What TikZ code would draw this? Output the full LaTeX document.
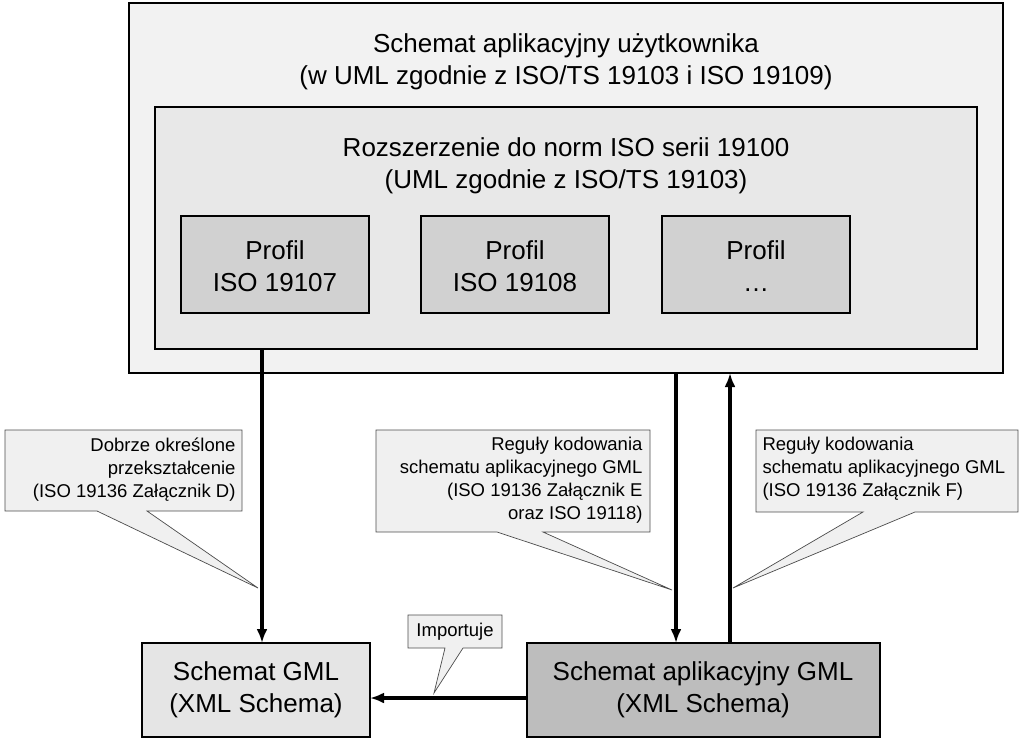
\documentclass[tikz,border=0pt]{standalone}
\usepackage{fontspec}
\setmainfont{Liberation Sans}
\usetikzlibrary{arrows.meta}
\begin{document}
\begin{tikzpicture}[x=1pt,y=-1pt,
  box/.style={draw=black,line width=1.6pt},
  big/.style={font=\fontsize{26}{32}\selectfont,align=center},
  small/.style={font=\fontsize{18.5}{23}\selectfont},
  arr/.style={line width=3.5pt,-{Latex[length=14pt,width=11pt]}},
  call/.style={draw=black!70,fill=black!6,line width=0.7pt}]
\useasboundingbox (0,0) rectangle (1024,752);
\draw[box,fill=black!5] (129,3) rectangle (1003,373);
\node[big] (t1) at (566,62) {Schemat aplikacyjny użytkownika\\(w UML zgodnie z ISO/TS 19103 i ISO 19109)};
\draw[box,fill=black!9] (155,107) rectangle (977,349);
\node[big] (t2) at (566,166) {Rozszerzenie do norm ISO serii 19100\\(UML zgodnie z ISO/TS 19103)};
\foreach \x/\t [count=\i] in {181/ISO 19107,421/ISO 19108,662/\ldots}{
  \draw[box,fill=black!18] (\x,216) rectangle ++(188,97);
  \node[big] (p\i) at (\x+94,266) {Profil\\\t};
}
\draw[box,fill=black!10] (142,643) rectangle (370,737);
\node[big] (g1) at (256,690) {Schemat GML\\(XML Schema)};
\draw[box,fill=black!26] (527,643) rectangle (880,737);
\node[big] (g2) at (703,690) {Schemat aplikacyjny GML\\(XML Schema)};
\coordinate (a1) at (262,349); \coordinate (b1) at (262,643);
\coordinate (a2) at (676,373); \coordinate (b2) at (676,643);
\coordinate (a3) at (730,643); \coordinate (b3) at (730,373);
\coordinate (a4) at (527,698); \coordinate (b4) at (370,698);
% callouts
\draw[call] (5,430) -- (242,430) -- (242,511) -- (147,511) -- (258,588) -- (97,511) -- (5,511) -- cycle;
\node[small,align=right,anchor=north east] (c1) at (239,434) {Dobrze określone\\przekształcenie\\(ISO 19136 Załącznik D)};
\draw[call] (376,430) -- (650,430) -- (650,532) -- (543,532) -- (672,590) -- (497,532) -- (376,532) -- cycle;
\node[small,align=right,anchor=north east] (c2) at (646,434) {Reguły kodowania\\schematu aplikacyjnego GML\\(ISO 19136 Załącznik E\\oraz ISO 19118)};
\draw[call] (756,430) -- (1018,430) -- (1018,512) -- (915,512) -- (733,588) -- (863,512) -- (756,512) -- cycle;
\node[small,align=left,anchor=north west] (c3) at (759,434) {Reguły kodowania\\schematu aplikacyjnego GML\\(ISO 19136 Załącznik F)};
\draw[call] (408,615) -- (502,615) -- (502,648) -- (463,648) -- (434,693) -- (445,648) -- (408,648) -- cycle;
\node[small] (c4) at (455,632) {Importuje};
\draw[arr] (a1) -- (b1);
\draw[arr] (a2) -- (b2);
\draw[arr] (a3) -- (b3);
\draw[arr] (a4) -- (b4);
\end{tikzpicture}
\end{document}
